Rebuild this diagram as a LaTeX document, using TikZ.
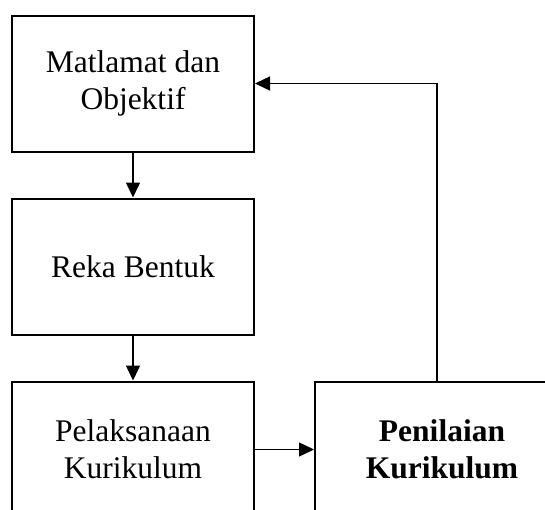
\documentclass[tikz,border=0pt]{standalone}
\usepackage{fontspec}
\setmainfont{Liberation Serif}
\usetikzlibrary{positioning,arrows.meta}

\begin{document}
\begin{tikzpicture}[x=1pt,y=-1pt,
	stagebox/.style={draw,line width=2pt,minimum width=242pt,minimum height=136pt,align=center,inner sep=0pt,
		font=\fontsize{31.5}{37}\selectfont},
	flow/.style={line width=1.4pt,-{Triangle[length=15pt,width=14pt]}}]
		\useasboundingbox (0,0) rectangle (545,509);
		\clip (0,0) rectangle (545,509);

		\node[stagebox]											(matlamat)	at (133,83.5)	{Matlamat dan\\Objektif};
		\node[stagebox,node distance=45pt,below=of matlamat]	(reka)		{Reka Bentuk};
		\node[stagebox,node distance=45pt,below=of reka]		(laksana)	{Pelaksanaan\\Kurikulum};
		\node[stagebox,node distance=59pt,right=of laksana,minimum width=254pt,font=\fontsize{31.5}{37}\selectfont\bfseries]	(nilai)		{Penilaian\\Kurikulum};

		\draw[flow] (matlamat) -- (reka);
		\draw[flow] (reka) -- (laksana);
		\draw[flow] (laksana) -- (nilai);
		\draw[flow] ([xshift=-5pt]nilai.north) |- (matlamat.east);
	\end{tikzpicture}
\end{document}
